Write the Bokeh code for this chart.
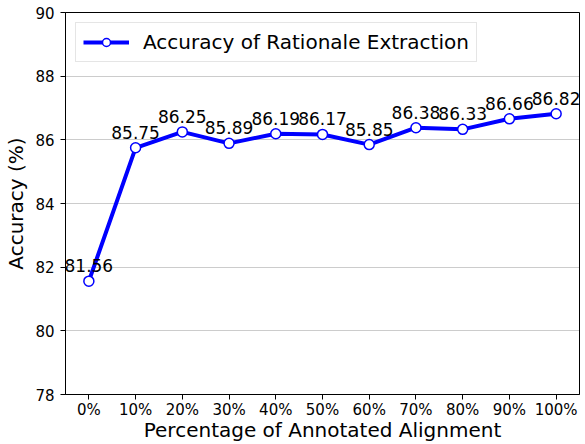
from bokeh.plotting import figure
from bokeh.models import ColumnDataSource, LabelSet, FixedTicker, Range1d, Legend
from bokeh.core.properties import value
from bokeh.embed import file_html
from bokeh.resources import INLINE

categories = ["0%", "10%", "20%", "30%", "40%", "50%", "60%", "70%", "80%", "90%", "100%"]
accuracy = [81.56, 85.75, 86.25, 85.89, 86.19, 86.17, 85.85, 86.38, 86.33, 86.66, 86.82]
y_ticks = [78, 80, 82, 84, 86, 88, 90]
series_name = "Accuracy of Rationale Extraction"
x_title = "Percentage of Annotated Alignment"
y_title = "Accuracy (%)"

FONT = "DejaVu Sans"
xs = list(range(len(categories)))
src = ColumnDataSource(dict(x=xs, y=accuracy, lbl=["%.2f" % v for v in accuracy]))

p = figure(width=585, height=444, output_backend="svg", toolbar_location=None,
           x_range=Range1d(-0.5, len(categories) - 0.5), y_range=Range1d(78, 90),
           min_border_left=65, min_border_right=6, min_border_top=12, min_border_bottom=48)
p.background_fill_color = "white"
p.border_fill_color = "white"
p.outline_line_color = "black"
p.outline_line_width = 1

p.xgrid.grid_line_color = None
p.ygrid.grid_line_color = "#999999"
p.ygrid.grid_line_dash = "1 1"
p.ygrid.grid_line_width = 1

p.xaxis.ticker = FixedTicker(ticks=xs)
p.xaxis.major_label_overrides = {i: c for i, c in enumerate(categories)}
p.yaxis.ticker = FixedTicker(ticks=y_ticks)
for ax in (p.xaxis, p.yaxis):
    ax.axis_line_color = "black"
    ax.major_tick_line_color = "black"
    ax.major_tick_out = 5
    ax.major_tick_in = 0
    ax.minor_tick_line_color = None
    ax.major_label_text_font = FONT
    ax.major_label_text_font_size = "15px"
    ax.major_label_text_color = "black"
    ax.axis_label_text_font = FONT
    ax.axis_label_text_font_size = "20px"
    ax.axis_label_text_font_style = "normal"
    ax.axis_label_text_color = "black"
p.xaxis.major_label_standoff = 1
p.xaxis.axis_label = x_title
p.xaxis.axis_label_standoff = -4
p.yaxis.major_label_standoff = 6
p.yaxis.axis_label = y_title
p.yaxis.axis_label_standoff = 4

line = p.line("x", "y", source=src, line_color="#0000ff", line_width=4)
pts = p.scatter("x", "y", source=src, size=10, fill_color="white", line_color="#0000ff", line_width=1.5)

labels = LabelSet(x="x", y="y", text="lbl", source=src, y_offset=9, text_align="center",
                  text_baseline="alphabetic", text_font=value(FONT), text_font_size=value("17px"),
                  text_color="black")
p.add_layout(labels)

legend = Legend(items=[(series_name, [line, pts])], location="top_left")
legend.label_text_font = FONT
legend.label_text_font_size = "20px"
legend.label_text_color = "black"
legend.glyph_width = 46
legend.glyph_height = 20
legend.label_height = 21
legend.label_standoff = 14
legend.padding = 7
legend.margin = 10
legend.border_line_color = "#cccccc"
legend.border_line_width = 1
legend.background_fill_alpha = 0.8
p.add_layout(legend)

open("out.html", "w").write(file_html(p, INLINE))
